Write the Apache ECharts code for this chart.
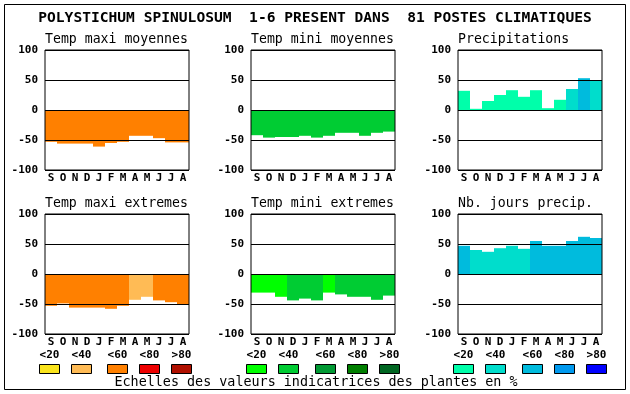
<!DOCTYPE html>
<html><head><meta charset="utf-8">
<script src="https://cdn.jsdelivr.net/npm/echarts@6/dist/echarts.min.js"></script>
<style>html,body{margin:0;padding:0;background:#fff}#c{width:630px;height:394px}</style>
</head><body><div id="c"></div>
<script>
const months = ['S','O','N','D','J','F','M','A','M','J','J','A'];
const tickMin = -100, tickMax = 100, tickStep = 50;
const scaleLabels = ['<20','<40','<60','<80','>80'];
const maxiColors = ['#fae41c','#ffbb55','#ff8000','#ee0000','#b01000'];
const miniColors = ['#00ff00','#00cc33','#009933','#007f00','#006622'];
const precColors = ['#00ffaa','#00ddcc','#00bbdd','#0099ee','#0000ff'];

const mainTitle = 'POLYSTICHUM SPINULOSUM  1-6 PRESENT DANS  81 POSTES CLIMATIQUES';
const footer = 'Echelles des valeurs indicatrices des plantes en %';

const tmaxMoy    = [-53,-56,-56,-56,-61,-55,-53,-43,-43,-47,-54,-54];
const tmaxMoyCls = [2,2,2,2,2,2,2,2,2,2,2,2];
const tminMoy    = [-42,-46,-45,-45,-43,-46,-43,-38,-38,-43,-38,-36];
const tminMoyCls = [1,1,1,1,1,1,1,1,1,1,1,1];
const precip     = [32,2,15,25,33,22,33,3,17,35,53,49];
const precipCls  = [0,0,0,0,0,0,0,0,0,1,2,1];
const tmaxExt    = [-53,-49,-56,-56,-56,-58,-53,-43,-38,-44,-47,-50];
const tmaxExtCls = [2,2,2,2,2,2,2,1,1,2,2,2];
const tminExt    = [-31,-31,-38,-44,-41,-44,-31,-34,-38,-38,-43,-36];
const tminExtCls = [0,0,0,1,1,1,0,1,1,1,1,1];
const nbJours    = [47,40,37,43,47,42,55,47,47,55,62,60];
const nbJoursCls = [2,1,1,1,1,1,2,2,2,2,2,2];

const panels = [
  {name:'Temp maxi moyennes', v:tmaxMoy, c:tmaxMoyCls, pal:maxiColors, col:0, row:0},
  {name:'Temp mini moyennes', v:tminMoy, c:tminMoyCls, pal:miniColors, col:1, row:0},
  {name:'Precipitations',     v:precip,  c:precipCls,  pal:precColors, col:2, row:0},
  {name:'Temp maxi extremes', v:tmaxExt, c:tmaxExtCls, pal:maxiColors, col:0, row:1},
  {name:'Temp mini extremes', v:tminExt, c:tminExtCls, pal:miniColors, col:1, row:1},
  {name:'Nb. jours precip.',  v:nbJours, c:nbJoursCls, pal:precColors, col:2, row:1}
];

const colLeft = [45, 251, 458];
const rowTop = [50, 214];
const gw = 144, gh = 120;
const mono = '"DejaVu Sans Mono", monospace';

const grids = [], xAxes = [], yAxes = [], series = [], graphics = [];
panels.forEach((p, i) => {
  const left = colLeft[p.col], top = rowTop[p.row];
  grids.push({left: left, top: top, width: gw, height: gh, show: true,
    borderColor: '#000', borderWidth: 1, backgroundColor: 'transparent', z: 10});
  xAxes.push({type: 'category', gridIndex: i, data: months,
    axisLine: {show: false}, axisTick: {show: false},
    axisLabel: {color: '#000', fontFamily: mono, fontWeight: 'bold', fontSize: 11, margin: 3, interval: 0}});
  yAxes.push({type: 'value', gridIndex: i, min: tickMin, max: tickMax, interval: tickStep, z: 5,
    axisLine: {show: false}, axisTick: {show: false},
    splitLine: {show: true, lineStyle: {color: '#000', width: 1}},
    axisLabel: {color: '#000', fontFamily: mono, fontWeight: 'bold', fontSize: 11, margin: 7}});
  series.push({type: 'bar', xAxisIndex: i, yAxisIndex: i, barWidth: '100%', barCategoryGap: '0%',
    animation: false, silent: true,
    data: p.v.map((val, k) => ({value: val, itemStyle: {color: p.pal[p.c[k]]}}))});
  graphics.push({type: 'text', left: left, top: top - 17, silent: true,
    style: {text: p.name, font: '13.2px ' + mono, fill: '#000'}});
});

// legend swatches
const legendGroups = [
  {pal: maxiColors, xs: [39, 71, 107, 139, 171]},
  {pal: miniColors, xs: [246, 278, 315, 347, 379]},
  {pal: precColors, xs: [453, 485, 522, 554, 586]}
];
legendGroups.forEach(g => {
  g.pal.forEach((col, k) => {
    graphics.push({type: 'rect', shape: {x: g.xs[k] + 0.5, y: 364.5, width: 20, height: 9},
      style: {fill: col, stroke: '#000', lineWidth: 1}, silent: true});
    graphics.push({type: 'text', x: g.xs[k] + 10.5, y: 355, silent: true,
      style: {text: scaleLabels[k], font: 'bold 11px ' + mono, fill: '#000', textAlign: 'center', textVerticalAlign: 'middle'}});
  });
});
graphics.push({type: 'text', x: 316, y: 383, silent: true,
  style: {text: footer, font: '13.4px ' + mono, fill: '#000', textAlign: 'center', textVerticalAlign: 'middle'}});
graphics.push({type: 'text', x: 315, y: 18, silent: true,
  style: {text: mainTitle, font: 'bold 14.6px ' + mono, fill: '#000', textAlign: 'center', textVerticalAlign: 'middle'}});
graphics.push({type: 'rect', shape: {x: 4.5, y: 4.5, width: 621, height: 385},
  style: {fill: 'none', stroke: '#000', lineWidth: 1}, silent: true});

const chart = echarts.init(document.getElementById('c'), null, {renderer: 'canvas'});
chart.setOption({
  animation: false,
  backgroundColor: '#fff',
  grid: grids, xAxis: xAxes, yAxis: yAxes, series: series,
  graphic: graphics
});
</script></body></html>
